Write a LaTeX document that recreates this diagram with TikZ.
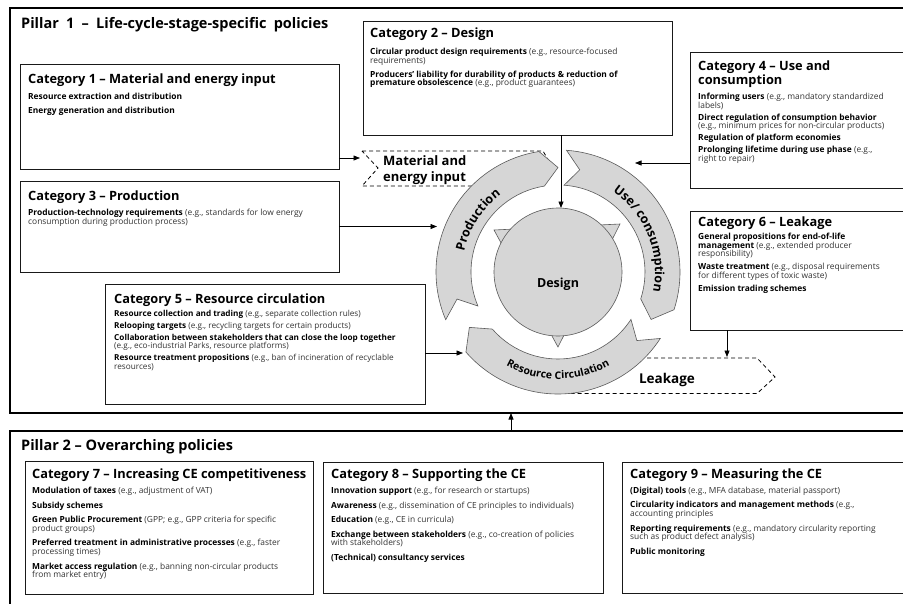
\documentclass[tikz,border=0pt]{standalone}
\usepackage{fontspec}
\setmainfont{Open Sans}
\usetikzlibrary{calc,decorations.text,arrows.meta}
\definecolor{cycfill}{HTML}{D6D6D6}
\definecolor{cycline}{HTML}{5A5A5A}
\newcommand\pilfont{\fontsize{14.5}{16}\selectfont\bfseries}
\newcommand\catfont{\fontsize{12.8}{14}\selectfont\bfseries}
\newcommand\bodyfont{\fontsize{8.4}{8.6}\selectfont}
\newcommand\arcfont{\fontsize{12.5}{14}\selectfont\bfseries}
\newcommand\rg[1]{{\color{black!80}#1}}
\newcommand\wsp{\hspace{3.5pt}}
\begin{document}
\begin{tikzpicture}[x=1pt,y=1pt,
  pillar/.style={draw=black, line width=2pt, fill=white, rectangle, anchor=north west, inner sep=0pt, outer sep=0pt},
  catbox/.style={draw=black!90, line width=0.9pt, fill=white, rectangle, anchor=north west, inner sep=0pt, outer sep=0pt},
  pilttl/.style={anchor=base west, inner sep=0pt, font=\pilfont},
  catttl/.style={anchor=base west, inner sep=0pt, font=\catfont},
  catbody/.style={anchor=north west, inner sep=0pt, align=left, font=\bodyfont},
  conn/.style={-{Triangle[length=6.5pt,width=5pt]}, line width=0.7pt, draw=black},
  dashshape/.style={draw=black, line width=0.8pt, dash pattern=on 4pt off 3pt},
  cycshape/.style={draw=cycline, line width=0.6pt, fill=cycfill},
  biglbl/.style={inner sep=0pt, font=\fontsize{13}{16}\selectfont\bfseries},
]
\useasboundingbox (0,0) rectangle (903,-603);
\fill[white] (0,0) rectangle (903,-603);

% pillars
\node[pillar, minimum width=902pt, minimum height=405pt] (p1) at (10,-8) {};
\node[pillar, minimum width=902pt, minimum height=185pt] (p2) at (10,-431) {};
\node[pilttl] (p1t) at (21,-28) {Pillar \wsp1 \wsp– \wsp Life-cycle-stage-specific \wsp policies};
\node[pilttl] (p2t) at (21,-450) {Pillar 2 – Overarching policies};

% Category 1
\node[catbox, minimum width=319pt, minimum height=105pt] (c1) at (20,-64) {};
\node[catttl] (c1t) at (28,-83) {Category 1 – Material and energy input};
\node[catbody] (c1b) at (28,-92.8) {\textbf{Resource extraction and distribution}\\[5.4pt]\textbf{Energy generation and distribution}};

% Category 2
\node[catbox, minimum width=309pt, minimum height=114pt] (c2) at (363,-21) {};
\node[catttl] (c2t) at (370,-37) {Category 2 – Design};
\node[catbody] (c2b) at (370,-47.8) {\textbf{Circular product design requirements} \rg{(e.g., resource-focused}\\\rg{requirements)}\\[5.4pt]\textbf{Producers' liability for durability of products \& reduction of}\\\textbf{premature obsolescence} \rg{(e.g., product guarantees)}};

% Category 3
\node[catbox, minimum width=319pt, minimum height=91pt] (c3) at (20,-181) {};
\node[catttl] (c3t) at (28,-200) {Category 3 – Production};
\node[catbody] (c3b) at (28,-208.8) {\textbf{Production-technology requirements} \rg{(e.g., standards for low energy}\\\rg{consumption during production process)}};

% Category 4
\node[catbox, minimum width=222pt, minimum height=136pt] (c4) at (690,-52) {};
\node[catttl, anchor=north west, align=left] (c4t) at (698,-60.7) {Category 4 – Use and\\consumption};
\node[catbody] (c4b) at (698,-92.8) {\textbf{Informing users} \rg{(e.g., mandatory standardized}\\\rg{labels)}\\[3.5pt]\textbf{Direct regulation of consumption behavior}\\\rg{(e.g., minimum prices for non-circular products)}\\[3.5pt]\textbf{Regulation of platform economies}\\[3.5pt]\textbf{Prolonging lifetime during use phase} \rg{(e.g.,}\\\rg{right to repair)}};

% Category 5
\node[catbox, minimum width=320pt, minimum height=120pt] (c5) at (105,-284) {};
\node[catttl] (c5t) at (114,-303) {Category 5 – Resource circulation};
\node[catbody, font=\fontsize{8.2}{8.6}\selectfont] (c5b) at (114,-309.8) {\textbf{Resource collection and trading} \rg{(e.g., separate collection rules)}\\[3.4pt]\textbf{Relooping targets} \rg{(e.g., recycling targets for certain products)}\\[3.4pt]\textbf{Collaboration between stakeholders that can close the loop together}\\\rg{(e.g., eco-industrial Parks, resource platforms)}\\[3.4pt]\textbf{Resource treatment propositions} \rg{(e.g., ban of incineration of recyclable}\\\rg{resources)}};

% Category 6
\node[catbox, minimum width=222pt, minimum height=119pt] (c6) at (690,-211) {};
\node[catttl] (c6t) at (698,-226) {Category 6 – Leakage};
\node[catbody] (c6b) at (698,-233.1) {\textbf{General propositions for end-of-life}\\\textbf{management} \rg{(e.g., extended producer}\\\rg{responsibility)}\\[4.4pt]\textbf{Waste treatment} \rg{(e.g., disposal requirements}\\\rg{for different types of toxic waste)}\\[4.4pt]\textbf{Emission trading schemes}};

% Category 7
\node[catbox, minimum width=288pt, minimum height=133pt] (c7) at (25,-461) {};
\node[catttl] (c7t) at (32,-478) {Category 7 – Increasing CE competitiveness};
\node[catbody] (c7b) at (32,-486.8) {\textbf{Modulation of taxes} \rg{(e.g., adjustment of VAT)}\\[6pt]\textbf{Subsidy schemes}\\[6pt]\textbf{Green Public Procurement} \rg{(GPP; e.g., GPP criteria for specific}\\\rg{product groups)}\\[6pt]\textbf{Preferred treatment in administrative processes} \rg{(e.g., faster}\\\rg{processing times)}\\[6pt]\textbf{Market access regulation} \rg{(e.g., banning non-circular products}\\\rg{from market entry)}};

% Category 8
\node[catbox, minimum width=280pt, minimum height=131pt] (c8) at (323,-462) {};
\node[catttl] (c8t) at (331,-478) {Category 8 – Supporting the CE};
\node[catbody] (c8b) at (331,-486.8) {\textbf{Innovation support} \rg{(e.g., for research or startups)}\\[6pt]\textbf{Awareness} \rg{(e.g., dissemination of CE principles to individuals)}\\[6pt]\textbf{Education} \rg{(e.g., CE in curricula)}\\[6pt]\textbf{Exchange between stakeholders} \rg{(e.g., co-creation of policies}\\\rg{with stakeholders)}\\[6pt]\textbf{(Technical) consultancy services}};

% Category 9
\node[catbox, minimum width=290pt, minimum height=131pt] (c9) at (622,-462) {};
\node[catttl] (c9t) at (630,-478) {Category 9 – Measuring the CE};
\node[catbody] (c9b) at (630,-486.8) {\textbf{(Digital) tools} \rg{(e.g., MFA database, material passport)}\\[6pt]\textbf{Circularity indicators and management methods} \rg{(e.g.,}\\\rg{accounting principles}\\[6pt]\textbf{Reporting requirements} \rg{(e.g., mandatory circularity reporting}\\\rg{such as product defect analysis)}\\[6pt]\textbf{Public monitoring}};

% dashed flow shapes
\draw[dashshape] (362,-151) -- (543,-151) -- (553,-168) -- (524,-186) -- (362,-186) -- (378,-168) -- cycle;
\draw[dashshape] (612,-358) -- (757,-358) -- (775,-377) -- (757,-393.5) -- (570,-393.5) -- cycle;
\node[biglbl, anchor=west, align=left] (mei) at (383,-170) {Material and\\energy input};
\node[biglbl, font=\fontsize{13.5}{16}\selectfont\bfseries, anchor=base] (leak) at (667,-383) {Leakage};

% design core
\draw[cycshape] (494,-230) -- (620,-224) -- (558,-347) -- cycle;
\node[circle, cycshape, minimum size=128pt, inner sep=0pt] (design) at (558,-272) {};
\node[font=\fontsize{12.5}{16}\selectfont\bfseries, anchor=base, inner sep=0pt] (designlbl) at (558,-287) {Design};

% cycle arrows
\begin{scope}[shift={(558,-272)}]
\draw[cycshape] (203:122) arc[start angle=203, end angle=99, radius=122] -- (90:104.5) -- (99:87) arc[start angle=99, end angle=203, radius=87] -- (195:104.5) -- cycle;
\draw[cycshape] (86:122) arc[start angle=86, end angle=-18, radius=122] -- (-27:104.5) -- (-18:87) arc[start angle=-18, end angle=86, radius=87] -- (78:104.5) -- cycle;
\draw[cycshape] (-33:122) arc[start angle=-33, end angle=-139, radius=122] -- (-148:104.5) -- (-139:87) arc[start angle=-139, end angle=-33, radius=87] -- (-41:104.5) -- cycle;
\path[decorate, decoration={text along path, text align=center, text={|\arcfont|Production}}] (192:96) arc[start angle=192, end angle=102, radius=96];
\path[decorate, decoration={text along path, text align=center, text={|\arcfont|Use/ consumption}}] (67:97) arc[start angle=67, end angle=-23, radius=97];
\path[decorate, decoration={text along path, text align=center, text={|\fontsize{10.5}{13}\selectfont\bfseries|Resource Circulation}}] (215:107) arc[start angle=215, end angle=325, radius=107];
\end{scope}

% connectors
\coordinate (meiin) at (360,-158);
\coordinate (prodin) at (437,-227);
\coordinate (c2d) at (561,-208);
\coordinate (usein) at (635,-163);
\coordinate (resin) at (463,-353);
\coordinate (leakin) at (727,-357);
\coordinate (pil) at (511,-420);
\draw[conn] (c1.east |- meiin) -- (meiin);
\draw[conn] (c3.east) -- (c3.east -| prodin);
\draw[conn] (c2.south -| c2d) -- (c2d);
\draw[conn] (c4.west |- usein) -- (usein);
\draw[conn] (c5.east |- resin) -- (resin);
\draw[conn] (c6.south -| leakin) -- (leakin);
\draw[conn] (p2.north -| pil) -- (p1.south -| pil);
\end{tikzpicture}
\end{document}
